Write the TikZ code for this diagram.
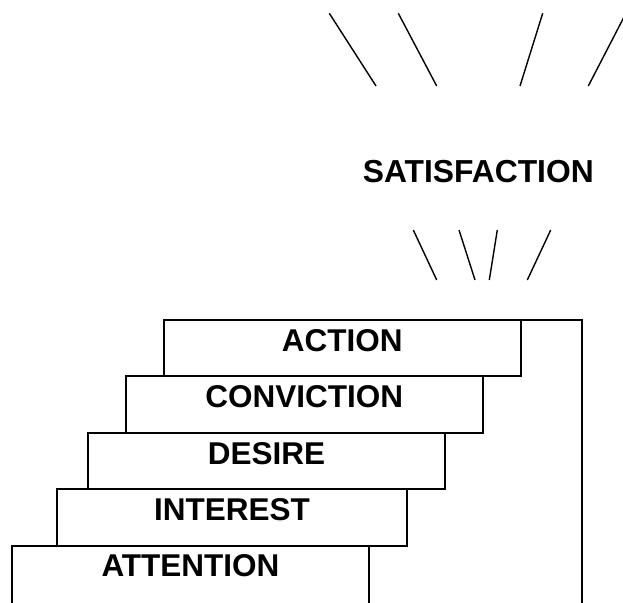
\documentclass[tikz,border=0pt]{standalone}
\usepackage{fontspec}
\setmainfont{Liberation Sans}
\usetikzlibrary{calc,positioning}
\tikzset{stepbox/.style={draw, line width=1.9pt, outer sep=0pt, inner sep=0pt,
    minimum width=357, minimum height=56.4, text height=22pt, text depth=16pt,
    font=\fontsize{31.5}{36}\selectfont\bfseries}}
\begin{document}
\begin{tikzpicture}[x=1pt,y=-1pt]
      \clip (0,0) rectangle (623,602);
      \fill[white] (0,0) rectangle (623,602);

      % the stairs
      \node[stepbox, anchor=north west, minimum height=60, text depth=20pt] (attention) at (12,545.6) {ATTENTION};
      \node[stepbox, anchor=north west, minimum width=350] (interest) at (57,489.2) {INTEREST};
      \node[stepbox, anchor=north west] (desire) at (88,432.8) {DESIRE};
      \node[stepbox, anchor=north west, minimum width=356.7] (conviction) at (126,376.4) {CONVICTION};
      \node[stepbox, anchor=north west, minimum width=357.3] (action) at (163.7,320) {ACTION};

      \coordinate (rimtop) at (582,320);
      \coordinate (rimfoot) at (582,610);
      \draw[line width=1.9pt] (action.north east) -- (rimtop) -- (rimfoot);

      \node[inner sep=0pt, text height=22pt, text depth=0pt,
            font=\fontsize{31.8}{36}\selectfont\bfseries] (satisfaction) at (478.3,171.7) {SATISFACTION};

      \begin{scope}[line width=1.4pt]
        % rays above
        \draw (329.3,13.3) -- (376,86);
        \draw (398.3,13.3) -- (436.7,86);
        \draw (542.7,13.3) -- (520,86);
        \draw (625.9,13.3) -- (588.3,86);
        % rays below
        \draw (413.3,230) -- (436.7,280);
        \draw (459,230) -- (475,280);
        \draw (497.3,230) -- (489.3,280);
        \draw (550.7,230) -- (527.3,280);
      \end{scope}
\end{tikzpicture}
\end{document}
